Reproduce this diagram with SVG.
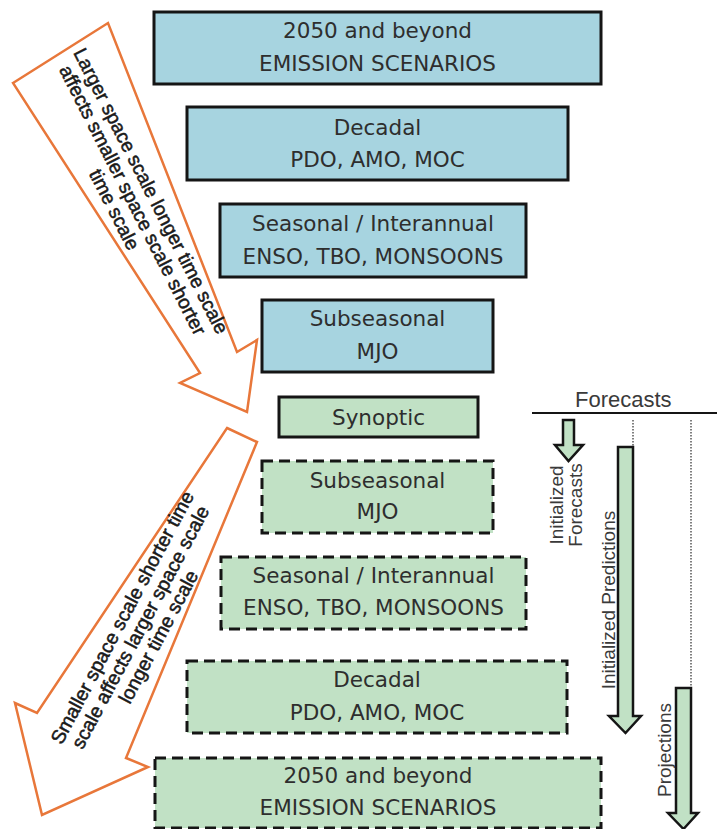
<svg xmlns="http://www.w3.org/2000/svg" width="717" height="829" viewBox="0 0 717 829">
<style>
.bg{fill:#ffffff}
.blue{fill:#a7d4e0;stroke:#151515;stroke-width:3}
.green{fill:#c1e1c5;stroke:#151515;stroke-width:3}
.dash{fill:#c1e1c5;stroke:#151515;stroke-width:3;stroke-dasharray:11 6}
.bt{font-family:"DejaVu Sans",Verdana,sans-serif;font-size:21.5px;fill:#2e2e2e;text-anchor:middle}
.rt{font-family:"Liberation Sans",Arial,sans-serif;font-size:19px;fill:#3a3a3a}
.ot{font-family:"Liberation Sans",Arial,sans-serif;font-size:19.5px;fill:#1a1a1a;stroke:#1a1a1a;stroke-width:0.5;text-anchor:middle}
.orange{fill:#ffffff;stroke:#e8773a;stroke-width:2.5;stroke-linejoin:miter}
.garrow{fill:#c1e1c5;stroke:#151515;stroke-width:2.5;stroke-linejoin:miter}
.dot{stroke:#555;stroke-width:1.5;stroke-dasharray:1.5 1.5;fill:none}
</style>
<rect class="bg" x="0" y="0" width="717" height="829"/>

<g id="connectors">
  <polygon class="orange" points="13,83 108,23 237,352 257,340 247,412 180,383 200,373"/>
  <polygon class="orange" points="227,428 257,442 126,758 148,767 42,815 15,703 37,713"/>
  <line x1="532" y1="413" x2="717" y2="413" stroke="#151515" stroke-width="2"/>
  <line class="dot" x1="633" y1="420" x2="633" y2="447"/>
  <line class="dot" x1="691" y1="420" x2="691" y2="688"/>
  <polygon class="garrow" points="563,420 574,420 574,445 583,445 568.5,461 555,445 563,445"/>
  <polygon class="garrow" points="618,447 633,447 633,716 641,716 625.5,733 609,716 618,716"/>
  <polygon class="garrow" points="676,688 691,688 691,813 698,813 683.5,829 668,813 676,813"/>
</g>

<g id="label-larger">
  <g transform="translate(133,200) rotate(63)">
    <text class="ot" x="0" y="-13.5">Larger space scale longer time scale</text>
    <text class="ot" x="0" y="7">affects smaller space scale shorter</text>
    <text class="ot" x="0" y="27.5">time scale</text>
  </g>
</g>
<g id="label-smaller">
  <g transform="translate(140,627) rotate(-62)">
    <text class="ot" x="0" y="-13.5">Smaller space scale shorter time</text>
    <text class="ot" x="0" y="7">scale affects larger space scale</text>
    <text class="ot" x="0" y="27.5">longer time scale</text>
  </g>
</g>

<g id="forecasts-header">
  <text class="rt" x="575" y="407" style="font-size:22px">Forecasts</text>
</g>
<g id="label-initialized-forecasts">
  <text class="rt" transform="translate(563,505) rotate(-90)" text-anchor="middle">Initialized</text>
  <text class="rt" transform="translate(582,505) rotate(-90)" text-anchor="middle">Forecasts</text>
</g>
<g id="label-initialized-predictions">
  <text class="rt" transform="translate(615,600) rotate(-90)" text-anchor="middle">Initialized Predictions</text>
</g>
<g id="label-projections">
  <text class="rt" transform="translate(671,750) rotate(-90)" text-anchor="middle">Projections</text>
</g>

<g id="b-2050">
  <rect class="blue" x="154" y="12" width="447" height="72"/>
  <text class="bt" x="377.5" y="38">2050 and beyond</text>
  <text class="bt" x="377.5" y="71">EMISSION SCENARIOS</text>
</g>
<g id="b-decadal">
  <rect class="blue" x="187" y="107" width="381" height="73"/>
  <text class="bt" x="377.5" y="135">Decadal</text>
  <text class="bt" x="377.5" y="167">PDO, AMO, MOC</text>
</g>
<g id="b-seasonal">
  <rect class="blue" x="220" y="204" width="306" height="73"/>
  <text class="bt" x="373" y="231">Seasonal / Interannual</text>
  <text class="bt" x="373" y="264">ENSO, TBO, MONSOONS</text>
</g>
<g id="b-subseasonal">
  <rect class="blue" x="262" y="300" width="231" height="72"/>
  <text class="bt" x="377.5" y="326">Subseasonal</text>
  <text class="bt" x="377.5" y="359">MJO</text>
</g>
<g id="g-synoptic">
  <rect class="green" x="279" y="397" width="199" height="40"/>
  <text class="bt" x="378.5" y="425">Synoptic</text>
</g>
<g id="g-subseasonal">
  <rect class="dash" x="262" y="461" width="231" height="72"/>
  <text class="bt" x="377.5" y="488">Subseasonal</text>
  <text class="bt" x="377.5" y="519">MJO</text>
</g>
<g id="g-seasonal">
  <rect class="dash" x="221" y="557" width="305" height="72"/>
  <text class="bt" x="373.5" y="583">Seasonal / Interannual</text>
  <text class="bt" x="373.5" y="615">ENSO, TBO, MONSOONS</text>
</g>
<g id="g-decadal">
  <rect class="dash" x="187" y="661" width="380" height="72"/>
  <text class="bt" x="377" y="687">Decadal</text>
  <text class="bt" x="377" y="720">PDO, AMO, MOC</text>
</g>
<g id="g-2050">
  <rect class="dash" x="155" y="758" width="446" height="70"/>
  <text class="bt" x="378" y="783">2050 and beyond</text>
  <text class="bt" x="378" y="815">EMISSION SCENARIOS</text>
</g>
</svg>
